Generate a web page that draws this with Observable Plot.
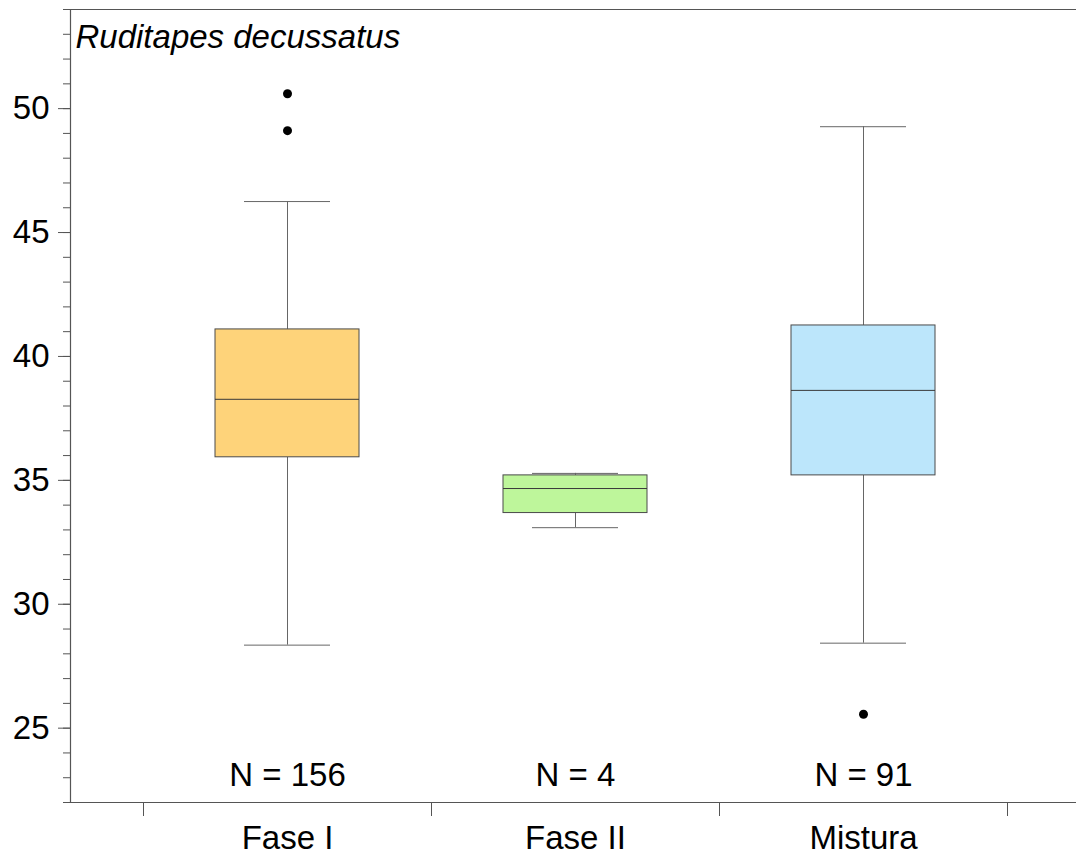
<!DOCTYPE html>
<html>
<head>
<meta charset="utf-8">
<script src="https://cdn.jsdelivr.net/npm/d3@7"></script>
<script src="https://cdn.jsdelivr.net/npm/@observablehq/plot@0.6"></script>
<style>
  html, body { margin: 0; padding: 0; background: #fff; }
  svg { display: block; }
</style>
</head>
<body>
<div id="chart"></div>
<script>
const title = "Ruditapes decussatus";
const categories = ["Fase I", "Fase II", "Mistura"];
const whiskerLow = [28.35, 33.09, 28.43];
const q1 = [35.93, 33.68, 35.2];
const median = [38.27, 34.67, 38.63];
const q3 = [41.09, 35.2, 41.25];
const whiskerHigh = [46.25, 35.28, 49.27];
const counts = [156, 4, 91];
const boxColors = ["#FED37A", "#BEF69B", "#BCE6FB"];
const outlierCategory = ["Fase I", "Fase I", "Mistura"];
const outlierValue = [50.6, 49.11, 25.56];
const yMajorTicks = [25, 30, 35, 40, 45, 50];
const yMinorTicks = d3.range(23, 54);

const boxes = categories.map((c, i) => ({
  cat: c, lo: whiskerLow[i], q1: q1[i], med: median[i], q3: q3[i], hi: whiskerHigh[i],
  n: counts[i], color: boxColors[i]
}));
const outliers = outlierCategory.map((c, i) => ({cat: c, v: outlierValue[i]}));

const axisColor = "#555";
const font = "'Liberation Sans', Arial, Helvetica, sans-serif";

const chart = Plot.plot({
  width: 1076,
  height: 859,
  marginTop: 9,
  marginBottom: 57,
  marginLeft: 70,
  marginRight: 0,
  style: {fontFamily: font, background: "#fff", color: "#000"},
  x: {type: "band", domain: categories, range: [143, 1007], padding: 0, label: null},
  y: {domain: [22, 54], label: null},
  marks: [
    // frame lines
    Plot.ruleY([22, 54], {stroke: axisColor, strokeWidth: 1.2, insetLeft: -7}),
    Plot.frame({anchor: "left", stroke: axisColor, strokeWidth: 1.2}),
    // y axis
    Plot.axisY({ticks: yMinorTicks, tickSize: 7, text: null, stroke: axisColor, label: null}),
    Plot.axisY({ticks: yMajorTicks, tickSize: 12, tickPadding: 9, fontSize: 33, stroke: axisColor, fill: "#000", label: null}),
    // x axis separators and labels
    Plot.axisX({tickSize: 14, text: null, dx: -144, stroke: axisColor, label: null}),
    Plot.axisX({ticks: [categories[categories.length - 1]], tickSize: 14, text: null, dx: 144, stroke: axisColor, label: null}),
    Plot.axisX({tickSize: 0, tickPadding: 23, fontSize: 33, fill: "#000", label: null}),
    // whiskers
    Plot.ruleX(boxes, {x: "cat", y1: "q3", y2: "hi", stroke: "#666", strokeWidth: 1}),
    Plot.ruleX(boxes, {x: "cat", y1: "lo", y2: "q1", stroke: "#666", strokeWidth: 1}),
    Plot.tickY(boxes, {x: "cat", y: "hi", stroke: "#666", strokeWidth: 1, inset: 101}),
    Plot.tickY(boxes, {x: "cat", y: "lo", stroke: "#666", strokeWidth: 1, inset: 101}),
    // boxes
    Plot.barY(boxes, {x: "cat", y1: "q1", y2: "q3", fill: "color", stroke: "#4a4a4a", strokeWidth: 1, insetLeft: 72, insetRight: 72}),
    Plot.tickY(boxes, {x: "cat", y: "med", stroke: "#3a3a3a", strokeWidth: 1, inset: 72}),
    // outliers
    Plot.dot(outliers, {x: "cat", y: "v", r: 4.5, fill: "#000", stroke: null}),
    // counts
    Plot.text(boxes, {x: "cat", text: d => `N = ${d.n}`, frameAnchor: "bottom", lineAnchor: "middle", dy: -27, fontSize: 33, fill: "#000"}),
    // title
    Plot.text([title], {frameAnchor: "top-left", textAnchor: "start", lineAnchor: "middle", dx: 5, dy: 28, fontSize: 33, fontStyle: "italic", fill: "#000"})
  ]
});
document.getElementById("chart").appendChild(chart);
</script>
</body>
</html>
